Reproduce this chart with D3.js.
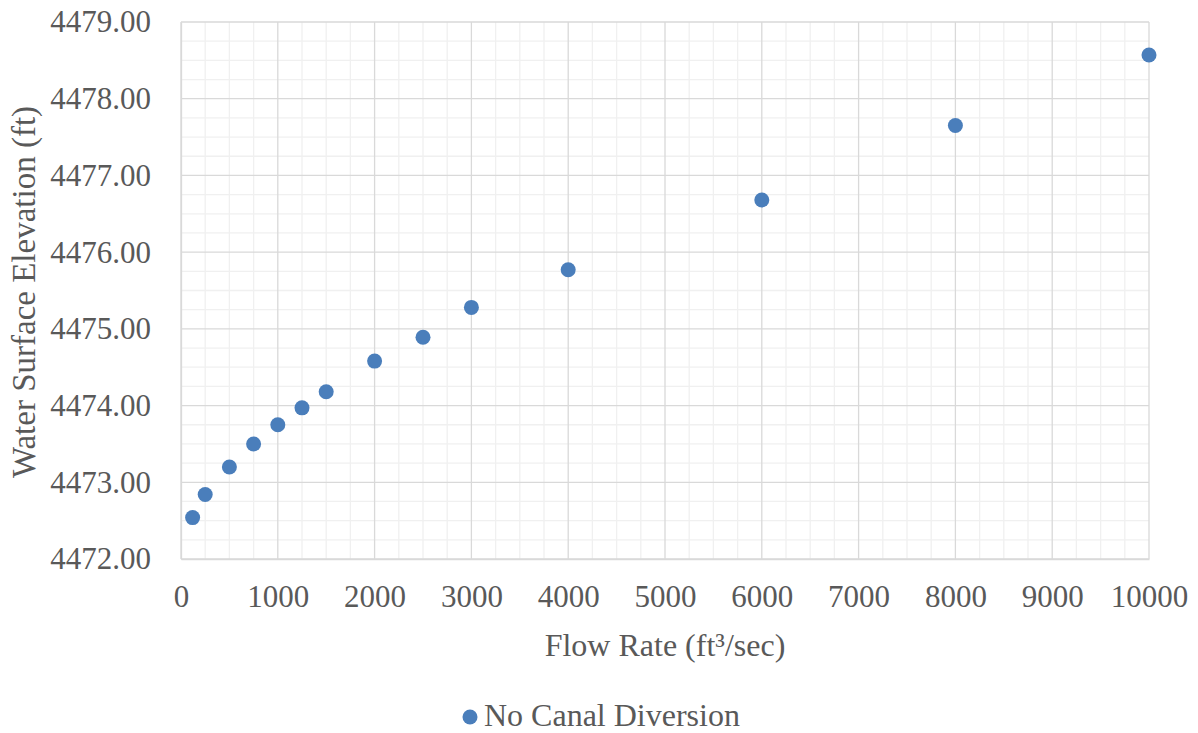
<!DOCTYPE html>
<html><head><meta charset="utf-8">
<script src="https://cdn.jsdelivr.net/npm/d3@7"></script>
<style>body{margin:0;background:#fff}svg{display:block}</style>
</head><body>
<script>
const flowRate = [120, 250, 500, 750, 1000, 1250, 1500, 2000, 2500, 3000, 4000, 6000, 8000, 10000];
const elevation = [4472.54, 4472.84, 4473.20, 4473.50, 4473.75, 4473.97, 4474.18, 4474.58, 4474.89, 4475.28, 4475.77, 4476.68, 4477.65, 4478.57];
const xTicks = [0,1000,2000,3000,4000,5000,6000,7000,8000,9000,10000];
const yTicks = [4472,4473,4474,4475,4476,4477,4478,4479];
const seriesName = "No Canal Diversion";

const FONT="Liberation Serif";
const W=1198,H=733;
const m={l:181,r:49,t:22,b:174};
const svg=d3.select("body").append("svg").attr("width",W).attr("height",H);
const x=d3.scaleLinear().domain([0,10000]).range([m.l,W-m.r]);
const y=d3.scaleLinear().domain([4472,4479]).range([H-m.b,m.t]);

const g=svg.append("g");
const xMinor=d3.range(0,10001,250).filter(v=>v%1000!==0);
const yMinor=d3.range(4472,4479.001,0.25).filter(v=>Math.abs(v-Math.round(v))>1e-6);
g.selectAll(".xm").data(xMinor).join("line").attr("x1",d=>x(d)).attr("x2",d=>x(d)).attr("y1",y(4472)).attr("y2",y(4479)).attr("stroke","#f0f0f0").attr("stroke-width",1.3);
g.selectAll(".ym").data(yMinor).join("line").attr("y1",d=>y(d)).attr("y2",d=>y(d)).attr("x1",x(0)).attr("x2",x(10000)).attr("stroke","#f0f0f0").attr("stroke-width",1.3);
g.selectAll(".xM").data(xTicks).join("line").attr("x1",d=>x(d)).attr("x2",d=>x(d)).attr("y1",y(4472)).attr("y2",y(4479)).attr("stroke","#d9d9d9").attr("stroke-width",1.3);
g.selectAll(".yM").data(yTicks).join("line").attr("y1",d=>y(d)).attr("y2",d=>y(d)).attr("x1",x(0)).attr("x2",x(10000)).attr("stroke","#d9d9d9").attr("stroke-width",1.3);

const yAxis=d3.axisLeft(y).tickValues(yTicks).tickFormat(d3.format(".2f")).tickSize(0).tickPadding(30);
const ya=svg.append("g").attr("transform",`translate(${x(0)},0)`).call(yAxis);
ya.attr("font-family",FONT).attr("font-size",31);
ya.select(".domain").attr("stroke","#d9d9d9").attr("stroke-width",1.3);
ya.selectAll("text").attr("font-family",FONT).attr("font-size",31).attr("fill","#595959");
const xAxis=d3.axisBottom(x).tickValues(xTicks).tickFormat(d3.format("d")).tickSize(0).tickPadding(26);
const xa=svg.append("g").attr("transform",`translate(0,${y(4472)})`).call(xAxis);
xa.attr("font-family",FONT).attr("font-size",31);
xa.select(".domain").attr("stroke","#d9d9d9").attr("stroke-width",1.3);
xa.selectAll("text").attr("font-family",FONT).attr("font-size",31).attr("fill","#595959");

svg.selectAll(".pt").data(flowRate.map((f,i)=>[f,elevation[i]])).join("circle")
  .attr("cx",d=>x(d[0])).attr("cy",d=>y(d[1])).attr("r",7.5).attr("fill","#4a7ebb");

function txt(s){return svg.append("text").attr("font-family",FONT).attr("font-size",s).attr("fill","#595959");}
txt(32).attr("x",(x(0)+x(10000))/2).attr("y",656).attr("text-anchor","middle").text("Flow Rate (ft³/sec)");
txt(33).attr("transform",`translate(35,${292}) rotate(-90)`).attr("text-anchor","middle").text("Water Surface Elevation (ft)");

svg.append("circle").attr("cx",470).attr("cy",717).attr("r",7.5).attr("fill","#4a7ebb");
txt(32).attr("x",484).attr("y",726).text(seriesName);
</script>
</body></html>
